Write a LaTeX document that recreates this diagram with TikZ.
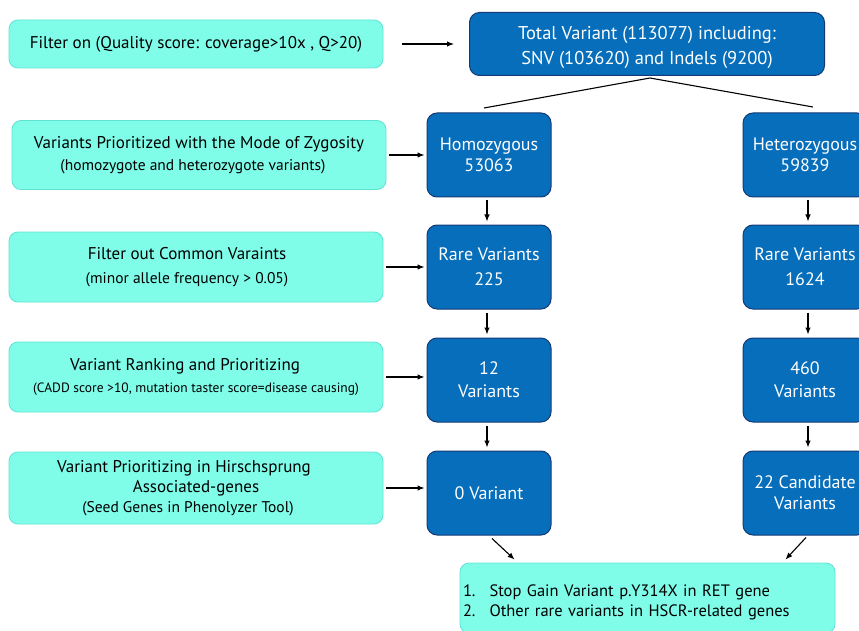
\documentclass[tikz,border=0pt]{standalone}
\usepackage{fontspec}
\setmainfont{PT Sans}
\usetikzlibrary{arrows.meta}
\definecolor{cyanfill}{RGB}{127,253,233}
\definecolor{cyandraw}{RGB}{96,226,210}
\definecolor{bluefill}{RGB}{6,110,186}
\definecolor{bluedraw}{RGB}{22,58,118}
\newcommand{\subnote}[2][15.5]{{\fontsize{#1}{#1}\selectfont #2}}

\begin{document}
\begin{tikzpicture}[x=1pt,y=-1pt,
    filterbox/.style={draw=cyandraw, fill=cyanfill, line width=0.8pt, rounded corners=9pt,
        minimum width=374pt, align=center, inner sep=0pt, text=black,
        font=\fontsize{17}{22}\selectfont},
    stagebox/.style={draw=bluedraw, fill=bluefill, line width=1pt, rounded corners=10pt,
        minimum width=124pt, minimum height=84pt, align=center, inner sep=0pt, text=white,
        font=\fontsize{18}{23}\selectfont},
    flow/.style={-{Latex[length=7pt,width=5.5pt]}, line width=1.1pt}]
    \clip (0,0) rectangle (859,631);
    \useasboundingbox (0,0) rectangle (859,631);

    % Colonna dei filtri
    \node[filterbox, minimum height=48pt] (qual) at (196,44)
        {Filter on (Quality score: coverage>10x , Q>20)};
    \node[filterbox, minimum height=69pt] (zyg) at (199,155)
        {Variants Prioritized with the Mode of Zygosity\\ \subnote{(homozygote and heterozygote variants)}\hspace*{12pt}};
    \node[filterbox, minimum height=70pt] (common) at (196,267)
        {Filter out Common Varaints\hspace*{18pt}\\[2pt] \subnote{(minor allele frequency > 0.05)}\hspace*{18pt}};
    \node[filterbox, minimum height=70pt] (rank) at (196,377)
        {Variant Ranking and Prioritizing\hspace*{22pt}\\ \subnote[13.5]{(CADD score >10, mutation taster score=disease causing)}};
    \node[filterbox, minimum height=72pt, font=\fontsize{17}{20}\selectfont] (hscr) at (196,488)
        {Variant Prioritizing in Hirschsprung\hspace*{24pt}\\ Associated-genes\hspace*{16pt}\\ \subnote{(Seed Genes in Phenolyzer Tool)}\hspace*{16pt}};

    % Colonne delle varianti
    \node[stagebox, minimum width=355pt, minimum height=63pt, font=\fontsize{18.5}{25}\selectfont] (total) at (647,44)
        {\raisebox{-3pt}[\height][\depth]{\begin{tabular}{@{}c@{}}
            Total Variant (113077) including:\\ SNV (103620) and Indels (9200)
        \end{tabular}}};
    \node[stagebox] (homo) at (489,155) {Homozygous\\[-2pt] 53063};
    \node[stagebox] (rarehomo) at (489,267) {Rare Variants\\[2pt] 225};
    \node[stagebox] (rankhomo) at (489,380) {12\\ Variants};
    \node[stagebox] (hscrhomo) at (489,493) {0 Variant};
    \node[stagebox] (hetero) at (805,155) {Heterozygous\\[-2pt] 59839};
    \node[stagebox] (rarehet) at (805,267) {Rare Variants\\[2pt] 1624};
    \node[stagebox] (rankhet) at (805,380) {460\\ Variants};
    \node[stagebox] (hscrhet) at (805,493) {22 Candidate\\[-2pt] Variants};

    % Risultato finale
    \node[filterbox, minimum width=375pt, minimum height=70pt, text width=369pt, align=left,
        inner xsep=3pt, font=\fontsize{16.5}{20}\selectfont] (result) at (647.5,598)
        {\raisebox{-4pt}[\height][\depth]{\begin{tabular}{@{}l@{\hspace{14pt}}l@{}}
            1. & Stop Gain Variant p.Y314X in RET gene\\
            2. & Other rare variants in HSCR-related genes
        \end{tabular}}};

    \coordinate (splitL) at (484,108);
    \coordinate (splitR) at (813,107);
    \draw[line width=1.1pt] (splitL) -- ([xshift=3pt,yshift=-2pt]total.south) -- (splitR);

    \draw[flow, shorten <=19pt, shorten >=15pt] (qual.east) -- (qual.east -| total.west);
    \draw[flow, shorten <=3pt, shorten >=2pt] (zyg.east) -- (zyg.east -| homo.west);
    \draw[flow, shorten <=3pt, shorten >=2pt] (common.east) -- (common.east -| rarehomo.west);
    \draw[flow, shorten <=3pt, shorten >=2pt] (rank.east) -- (rank.east -| rankhomo.west);
    \draw[flow, shorten <=3pt, shorten >=2pt] (hscr.east) -- (hscr.east -| hscrhomo.west);

    \draw[flow, shorten <=3pt, shorten >=3pt] ([xshift=-2pt]homo.south) -- ([xshift=-2pt]rarehomo.north);
    \draw[flow, shorten <=3pt, shorten >=3pt] ([xshift=-2pt]rarehomo.south) -- ([xshift=-2pt]rankhomo.north);
    \draw[flow, shorten <=3pt, shorten >=3pt] ([xshift=-2pt]rankhomo.south) -- ([xshift=-2pt]hscrhomo.north);
    \draw[flow, shorten <=3pt, shorten >=3pt] ([xshift=3pt]hetero.south) -- ([xshift=3pt]rarehet.north);
    \draw[flow, shorten <=3pt, shorten >=3pt] ([xshift=3pt]rarehet.south) -- ([xshift=3pt]rankhet.north);
    \draw[flow, shorten <=3pt, shorten >=3pt] ([xshift=3pt]rankhet.south) -- ([xshift=3pt]hscrhet.north);

    \draw[flow] ([xshift=3pt,yshift=-3pt]hscrhomo.south) -- ([xshift=55pt,yshift=3pt]result.north west);
    \draw[flow] ([xshift=1pt,yshift=-2pt]hscrhet.south) -- ([xshift=-50pt,yshift=3pt]result.north east);
\end{tikzpicture}
\end{document}
